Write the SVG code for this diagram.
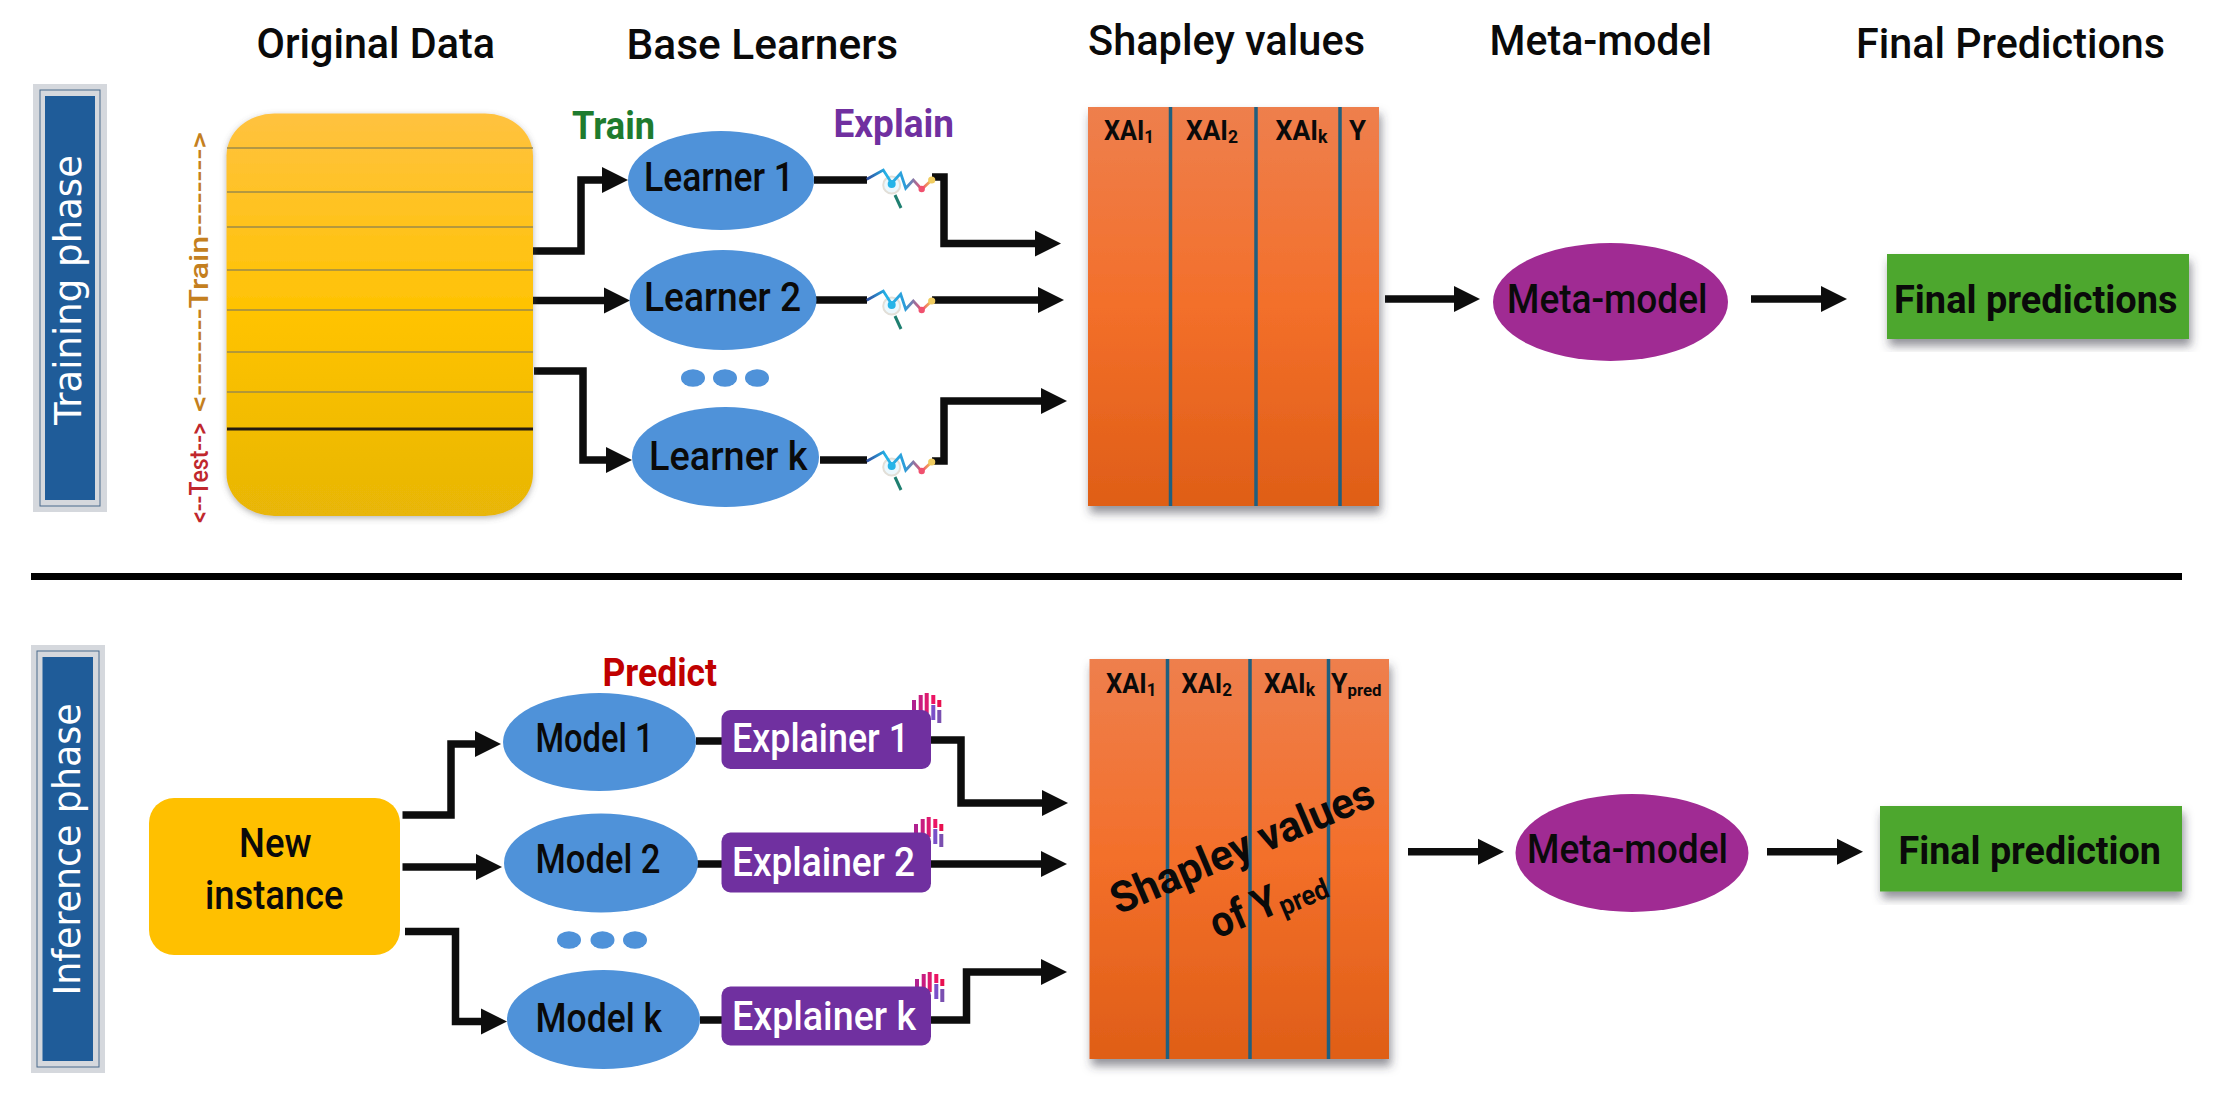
<svg xmlns="http://www.w3.org/2000/svg" xmlns:xlink="http://www.w3.org/1999/xlink" width="2220" height="1102" viewBox="0 0 2220 1102">
<style>
text{font-family:"Roboto","Liberation Sans",sans-serif;fill:#0a0a0a}
.h{font-size:43px;font-weight:500}
.n{font-size:40px;font-weight:500}
.b{font-weight:700;font-size:38px}
.x{font-weight:700;font-size:27px}
.w{fill:#fff}
.v{font-family:"DejaVu Sans",sans-serif;fill:#fff;font-size:37px}
.c{fill:none;stroke:#0d0d0d;stroke-width:7.500}
.a{marker-end:url(#head)}
.l{fill:#4F92D9}
.m{fill:#A02B93}
.g{fill:#4EA72E;filter:url(#sh)}
.e{fill:#7030A0}
.sl{stroke:#1F5F7F;stroke-width:3.5;fill:none}
.dl{stroke:#9c8a4a;stroke-width:1.6;fill:none}
</style>
<defs>
<marker id="head" markerUnits="userSpaceOnUse" markerWidth="27" markerHeight="28" viewBox="0 0 27 28" refX="1" refY="14" orient="auto"><path d="M0 1 L26 14 L0 27 Z" fill="#0d0d0d"/></marker>
<linearGradient id="gy" x1="0" y1="0" x2="0" y2="1"><stop offset="0" stop-color="#FFC23F"/><stop offset=".5" stop-color="#FFC301"/><stop offset="1" stop-color="#E8B607"/></linearGradient>
<linearGradient id="go" x1="0" y1="0" x2="0" y2="1"><stop offset="0" stop-color="#EE7F4D"/><stop offset=".5" stop-color="#F36F2A"/><stop offset="1" stop-color="#DF5E17"/></linearGradient>
<linearGradient id="gs" x1="0" y1="0" x2="1" y2="0"><stop offset="0" stop-color="#2F4C9E"/><stop offset=".3" stop-color="#25B4E8"/><stop offset=".6" stop-color="#2C9BD8"/><stop offset=".85" stop-color="#F0506E"/><stop offset="1" stop-color="#F0C850"/></linearGradient>
<filter id="sh" x="-10%" y="-10%" width="125%" height="125%"><feDropShadow dx="2" dy="7" stdDeviation="5" flood-color="#3a3a4a" flood-opacity=".55"/></filter>
<filter id="so" x="-10%" y="-10%" width="125%" height="125%"><feDropShadow dx="0" dy="2" stdDeviation="3" flood-color="#5a5a5a" flood-opacity=".45"/></filter>
<g id="sq">
<circle cx="891.7" cy="185" r="8.5" fill="#dff3fb" fill-opacity=".6" stroke="#e2dfd8" stroke-width="2"/>
<path d="M895 195 L901 208" stroke="#1F7F70" stroke-width="3" fill="none"/>
<path d="M866.7 179.3 L883.3 170 L891.7 183.3 L900.7 173.3 L905.7 188.3 L913.3 180 L921.7 189.3 L931.7 180" stroke="url(#gs)" stroke-width="2.8" fill="none"/>
<circle cx="891.7" cy="184" r="4" fill="#25B4E8"/>
<circle cx="921.7" cy="189" r="3.2" fill="#F0506E"/>
<circle cx="931.7" cy="180" r="3.6" fill="#F0CC60"/>
</g>
<g id="hand">
<rect x="912" y="700" width="4" height="14" fill="#B0208F"/>
<rect x="918.7" y="695" width="4" height="18" fill="#C81C80"/>
<rect x="924.7" y="693" width="4" height="20" fill="#DC1A70"/>
<rect x="931.3" y="695" width="4" height="9" fill="#EC1464"/>
<rect x="931.3" y="705" width="4" height="15" fill="#7A50C8"/>
<rect x="937.3" y="700" width="4" height="7" fill="#E8104F"/>
<rect x="937.3" y="710" width="4" height="13" fill="#7A4FB0"/>
</g>
</defs>
<rect width="2220" height="1102" fill="#fff"/>

<g id="headings">
<text class="h" x="256.500" y="58" textLength="238.500" lengthAdjust="spacingAndGlyphs">Original Data</text>
<text class="h" x="626.500" y="59" textLength="271.500" lengthAdjust="spacingAndGlyphs">Base Learners</text>
<text class="h" x="1088" y="55" textLength="277" lengthAdjust="spacingAndGlyphs">Shapley values</text>
<text class="h" x="1489.500" y="55" textLength="222.500" lengthAdjust="spacingAndGlyphs">Meta-model</text>
<text class="h" x="1856" y="58" textLength="309" lengthAdjust="spacingAndGlyphs">Final Predictions</text>
</g>

<g id="connectors">
<path class="c a" d="M533 251 H581 V180 H603"/>
<path class="c a" d="M533 300.500 H605"/>
<path class="c a" d="M534 371 H583 V460 H607"/>
<path class="c" d="M814 180 H867"/>
<path class="c" d="M816 300 H867"/>
<path class="c" d="M820 460 H867"/>
<path class="c a" d="M932 177 H944 V243.500 H1036"/>
<path class="c a" d="M932 300 H1039"/>
<path class="c a" d="M932 461 H944 V401 H1042"/>
<path class="c a" d="M1385 299 H1455"/>
<path class="c a" d="M1751 299 H1822"/>
<path class="c a" d="M402.500 815 H451 V744 H476"/>
<path class="c a" d="M402.500 867 H477"/>
<path class="c a" d="M405 931.500 H455.500 V1021.500 H482"/>
<path class="c" d="M696 741 H722"/>
<path class="c" d="M697 864 H722"/>
<path class="c" d="M700 1020 H722"/>
<path class="c a" d="M931 740 H961 V803 H1043"/>
<path class="c a" d="M931 864 H1042"/>
<path class="c a" d="M931 1020 H966.500 V972 H1042"/>
<path class="c a" d="M1408 851.700 H1479"/>
<path class="c a" d="M1767 851.700 H1838"/>
</g>

<g id="separator"><rect x="31" y="573" width="2151" height="7" fill="#000"/></g>

<g id="training-phase">
<rect x="33" y="84" width="74" height="428" fill="#d5d8dd"/>
<rect x="40" y="90" width="60" height="416" fill="#d5d8dd" stroke="#4a6a8c" stroke-width="1"/>
<rect x="45" y="96" width="50" height="404" fill="#1F5C99"/>
<text class="v" transform="translate(81 425) rotate(-90)" textLength="270" lengthAdjust="spacingAndGlyphs">Training phase</text>
</g>

<g id="original-data">
<rect x="226.500" y="113.500" width="306.500" height="402.500" rx="48" ry="42" fill="url(#gy)" filter="url(#so)"/>
<path class="dl" d="M227 148 H533 M227 192 H533 M227 227 H533 M227 270 H533 M227 310 H533 M227 352 H533 M227 392 H533"/>
<path d="M227 429 H533" stroke="#231a10" stroke-width="3" fill="none"/>
<text transform="translate(208 412) rotate(-90)" font-size="26" font-weight="500" style="fill:#C47F20" textLength="280" lengthAdjust="spacingAndGlyphs">&lt;--------Train--------&gt;</text>
<text transform="translate(208 523) rotate(-90)" font-size="26" font-weight="500" style="fill:#C0272D" textLength="100" lengthAdjust="spacingAndGlyphs">&lt;--Test--&gt;</text>
</g>

<g id="label-train"><text class="b" x="572" y="138.500" textLength="83" lengthAdjust="spacingAndGlyphs" style="fill:#1E7B2E">Train</text></g>
<g id="label-explain"><text class="b" x="833.500" y="137" textLength="120.500" lengthAdjust="spacingAndGlyphs" style="fill:#7030A0">Explain</text></g>

<g id="learner-1"><ellipse class="l" cx="721" cy="180.500" rx="93" ry="49.500"/><text class="n" x="644" y="191" textLength="150" lengthAdjust="spacingAndGlyphs">Learner 1</text></g>
<g id="learner-2"><ellipse class="l" cx="723" cy="300" rx="93.500" ry="50"/><text class="n" x="644" y="311" textLength="157" lengthAdjust="spacingAndGlyphs">Learner 2</text></g>
<g id="learner-k"><ellipse class="l" cx="725.500" cy="457" rx="93.500" ry="50"/><text class="n" x="649" y="470" textLength="158.500" lengthAdjust="spacingAndGlyphs">Learner k</text></g>
<g id="learner-dots"><ellipse class="l" cx="693" cy="378" rx="12" ry="8.800"/><ellipse class="l" cx="725" cy="378" rx="12" ry="8.800"/><ellipse class="l" cx="757" cy="378" rx="12" ry="8.800"/></g>

<g id="xai-icon-1"><use href="#sq" xlink:href="#sq"/></g>
<g id="xai-icon-2"><use href="#sq" xlink:href="#sq" y="121"/></g>
<g id="xai-icon-k"><use href="#sq" xlink:href="#sq" y="282"/></g>

<g id="shapley-train">
<rect x="1088" y="107" width="291" height="399" fill="url(#go)" filter="url(#sh)"/>
<path class="sl" d="M1170.500 107 V506 M1256 107 V506 M1340 107 V506"/>
<text class="x" x="1104" y="140" textLength="50" lengthAdjust="spacingAndGlyphs">XAI<tspan font-size="18" dy="3">1</tspan></text>
<text class="x" x="1186" y="140" textLength="52" lengthAdjust="spacingAndGlyphs">XAI<tspan font-size="18" dy="3">2</tspan></text>
<text class="x" x="1275.500" y="140" textLength="52" lengthAdjust="spacingAndGlyphs">XAI<tspan font-size="18" dy="3">k</tspan></text>
<text class="x" x="1349" y="140" textLength="17" lengthAdjust="spacingAndGlyphs">Y</text>
</g>

<g id="meta-train"><ellipse class="m" cx="1610.500" cy="302" rx="117.500" ry="59"/><text class="n" x="1507" y="312.500" textLength="200.500" lengthAdjust="spacingAndGlyphs">Meta-model</text></g>
<g id="final-train"><rect class="g" x="1887" y="254" width="302" height="85"/><text class="b" x="1894" y="312.500" textLength="283.500" lengthAdjust="spacingAndGlyphs">Final predictions</text></g>

<g id="inference-phase">
<rect x="31" y="645" width="74" height="428" fill="#d5d8dd"/>
<rect x="37" y="651" width="62" height="416" fill="#d5d8dd" stroke="#4a6a8c" stroke-width="1"/>
<rect x="42.500" y="657" width="50.500" height="404" fill="#1F5C99"/>
<text class="v" transform="translate(80 995.500) rotate(-90)" textLength="292" lengthAdjust="spacingAndGlyphs">Inference phase</text>
</g>

<g id="new-instance">
<rect x="149" y="798" width="251" height="157" rx="25" fill="#FFC000"/>
<text class="n" x="239" y="856.500" textLength="72.500" lengthAdjust="spacingAndGlyphs">New</text>
<text class="n" x="205" y="908.500" textLength="138.500" lengthAdjust="spacingAndGlyphs">instance</text>
</g>

<g id="label-predict"><text class="b" x="602.500" y="686" textLength="114.500" lengthAdjust="spacingAndGlyphs" style="fill:#C00000">Predict</text></g>

<g id="model-1"><ellipse class="l" cx="599.500" cy="742" rx="96.500" ry="49"/><text class="n" x="535.500" y="752" textLength="118" lengthAdjust="spacingAndGlyphs">Model 1</text></g>
<g id="model-2"><ellipse class="l" cx="601" cy="863" rx="97" ry="49.500"/><text class="n" x="535.500" y="873" textLength="125" lengthAdjust="spacingAndGlyphs">Model 2</text></g>
<g id="model-k"><ellipse class="l" cx="603.500" cy="1019.500" rx="96.500" ry="49.500"/><text class="n" x="535.500" y="1032" textLength="126.500" lengthAdjust="spacingAndGlyphs">Model k</text></g>
<g id="model-dots"><ellipse class="l" cx="569" cy="940" rx="12" ry="8.800"/><ellipse class="l" cx="602.500" cy="940" rx="12" ry="8.800"/><ellipse class="l" cx="635" cy="940" rx="12" ry="8.800"/></g>

<g id="explainer-1"><use href="#hand" xlink:href="#hand"/><rect class="e" x="721.500" y="710" width="209.500" height="59" rx="9"/><text class="n w" x="732" y="752" textLength="177" lengthAdjust="spacingAndGlyphs">Explainer 1</text></g>
<g id="explainer-2"><use href="#hand" xlink:href="#hand" x="2" y="124"/><rect class="e" x="721.500" y="832.500" width="209.500" height="60" rx="9"/><text class="n w" x="732" y="876" textLength="183" lengthAdjust="spacingAndGlyphs">Explainer 2</text></g>
<g id="explainer-k"><use href="#hand" xlink:href="#hand" x="3" y="279"/><rect class="e" x="721.500" y="986.500" width="209.500" height="59" rx="9"/><text class="n w" x="732" y="1030" textLength="184" lengthAdjust="spacingAndGlyphs">Explainer k</text></g>

<g id="shapley-inference">
<rect x="1089.500" y="659" width="299.500" height="400" fill="url(#go)" filter="url(#sh)"/>
<path class="sl" d="M1167.500 659 V1059 M1250 659 V1059 M1328.500 659 V1059"/>
<text class="x" x="1106" y="692.500" textLength="50.500" lengthAdjust="spacingAndGlyphs">XAI<tspan font-size="18" dy="3">1</tspan></text>
<text class="x" x="1181.500" y="692.500" textLength="50.500" lengthAdjust="spacingAndGlyphs">XAI<tspan font-size="18" dy="3">2</tspan></text>
<text class="x" x="1264" y="692.500" textLength="51" lengthAdjust="spacingAndGlyphs">XAI<tspan font-size="18" dy="3">k</tspan></text>
<text class="x" x="1331" y="692.500" textLength="50.500" lengthAdjust="spacingAndGlyphs">Y<tspan font-size="17" dy="3">pred</tspan></text>
<text transform="translate(1118 915) rotate(-23)" font-size="43" font-weight="700" textLength="282" lengthAdjust="spacingAndGlyphs">Shapley values</text>
<text transform="translate(1217 939) rotate(-23)" font-size="43" font-weight="700" textLength="122" lengthAdjust="spacingAndGlyphs">of Y<tspan font-size="28" dy="5">pred</tspan></text>
</g>

<g id="meta-inference"><ellipse class="m" cx="1632" cy="853" rx="116.500" ry="59"/><text class="n" x="1527" y="863" textLength="201" lengthAdjust="spacingAndGlyphs">Meta-model</text></g>
<g id="final-inference"><rect class="g" x="1880" y="806" width="302" height="85.500"/><text class="b" x="1898.500" y="864" textLength="262.500" lengthAdjust="spacingAndGlyphs">Final prediction</text></g>
</svg>
